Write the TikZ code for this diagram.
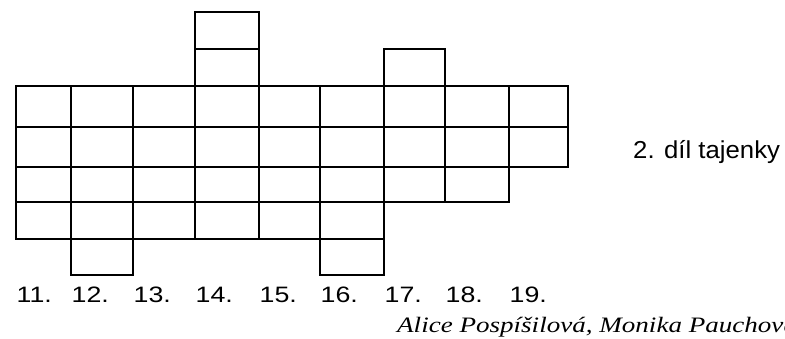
\documentclass[tikz,border=0pt]{standalone}
\usepackage{fontspec}
\setmainfont{Liberation Sans}
\newfontfamily\numfont[FakeStretch=1.2]{Liberation Sans}
\newfontfamily\sidefont[FakeStretch=1.05]{Liberation Sans}
\newfontfamily\authorfont[FakeStretch=1.23]{Liberation Serif}
\begin{document}
\begin{tikzpicture}[x=1pt,y=-1pt,
  cellbox/.style={draw=black,line width=1.3pt},
  thickrow/.style={draw=black,line width=2.6pt},
  numlabel/.style={anchor=base west,inner sep=0pt,font=\numfont\fontsize{22.3}{24}\selectfont},
  sidelabel/.style={anchor=base west,inner sep=0pt,font=\sidefont\fontsize{24.5}{26}\selectfont},
  authorlabel/.style={anchor=base west,inner sep=0pt,font=\authorfont\itshape\fontsize{22}{24}\selectfont}]
\useasboundingbox (0,0) rectangle (785,339);
\def\X{{16,71,133,195,259,320,384,445,509,568}}
\def\Y{{12,49,86,127,167,202,239,275}}
% column: index, top row index, bottom row index
\foreach \c/\t/\b in {0/2/6,1/2/7,2/2/6,3/0/6,4/2/6,5/2/7,6/1/5,7/2/5,8/2/4}{
  \pgfmathtruncatemacro{\bb}{\b-1}
  \foreach \r in {\t,...,\bb}{
    \pgfmathsetmacro{\xa}{\X[\c]}
    \pgfmathsetmacro{\xb}{\X[\c+1]}
    \pgfmathsetmacro{\ya}{\Y[\r]}
    \pgfmathsetmacro{\yb}{\Y[\r+1]}
    \draw[cellbox] (\xa,\ya) rectangle (\xb,\yb);
  }
}
\draw[thickrow] (16,127) rectangle (568,167);
\foreach \c/\n in {0/11,1/12,2/13,3/14,4/15,5/16,6/17,7/18,8/19}{
  \pgfmathsetmacro{\xa}{\X[\c]+0.5}
  \node[numlabel] (n\n) at (\xa,303) {\n.};
}
\node[sidelabel] (side) at (633,159) {2. díl tajenky};
\node[authorlabel] (author) at (397,332.5) {Alice Pospíšilová, Monika Pauchová};
\end{tikzpicture}
\end{document}
